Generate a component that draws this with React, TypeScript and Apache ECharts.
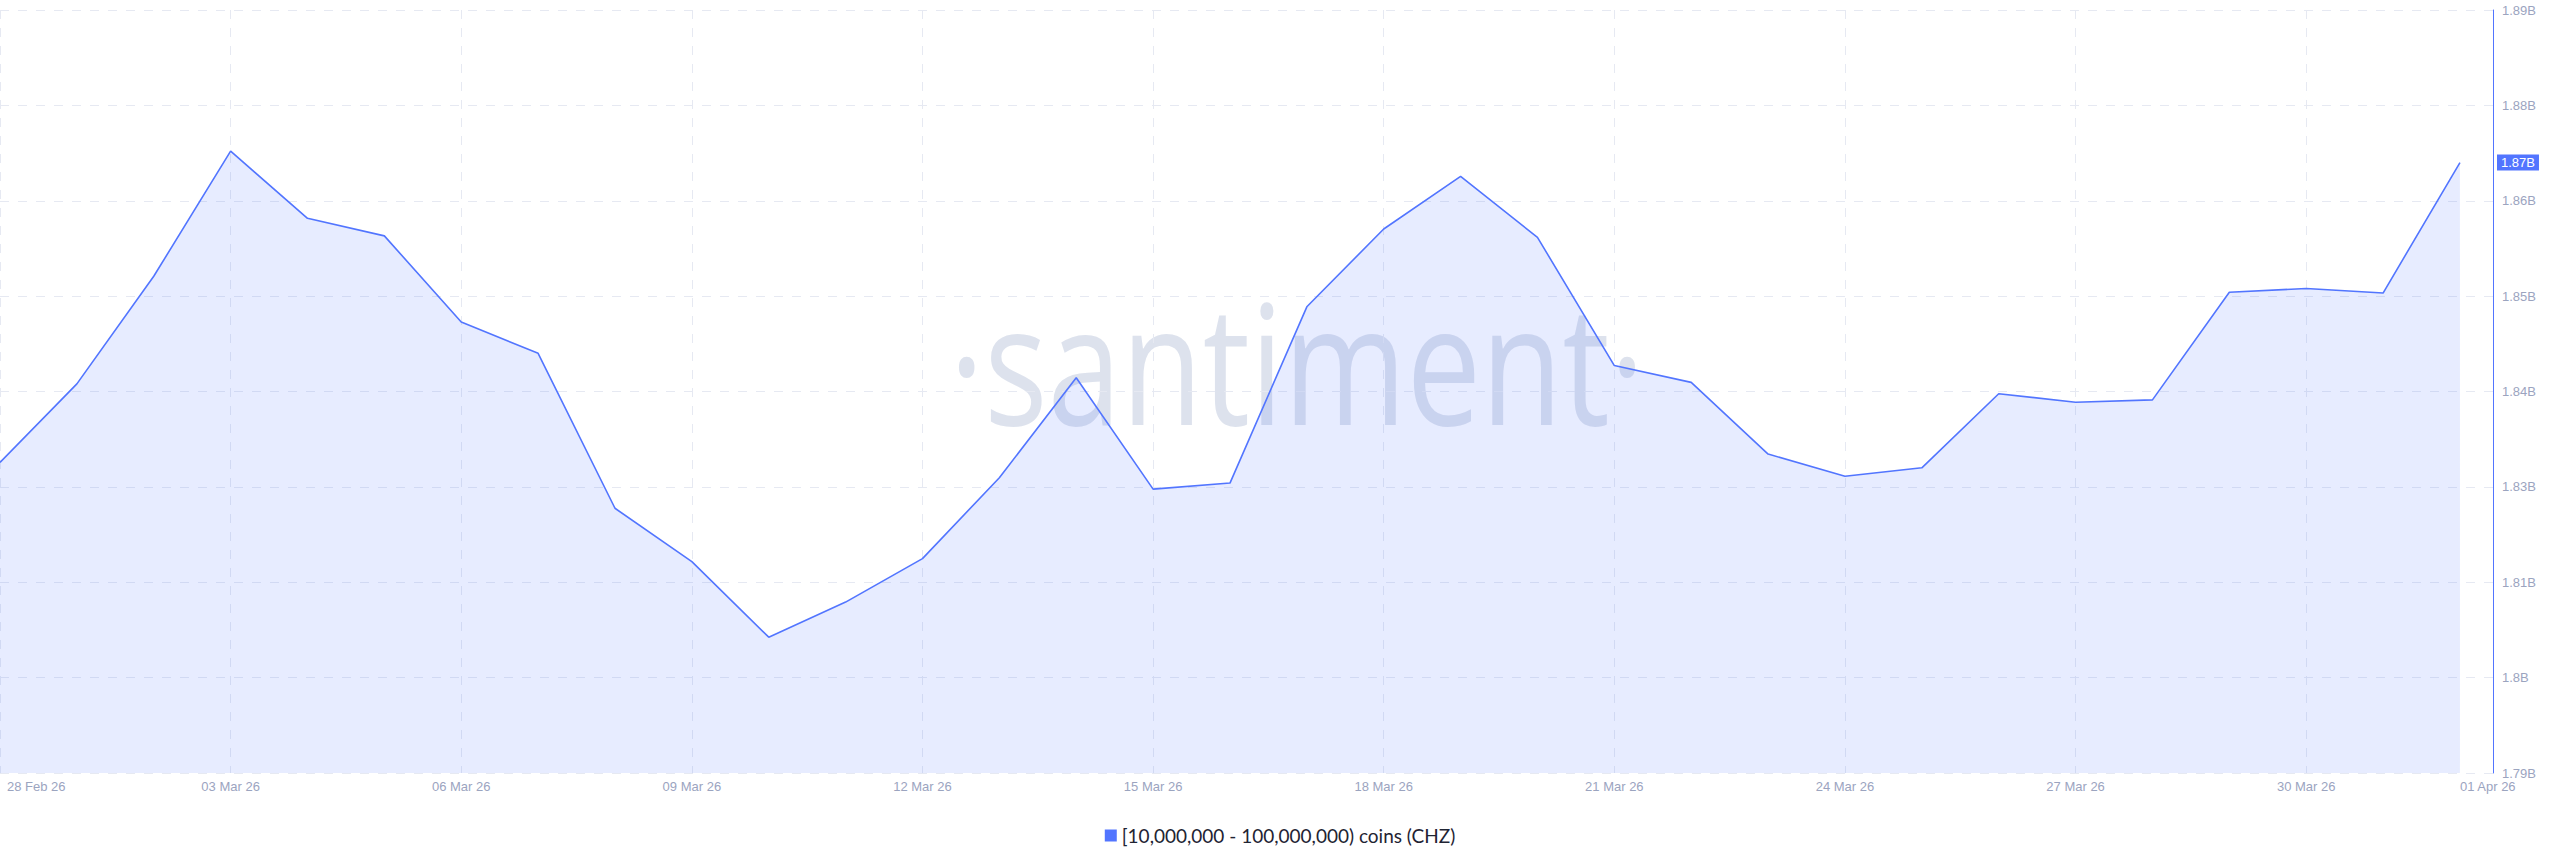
import React, { useEffect, useRef } from "react";
import * as echarts from "echarts";

const dates: string[] = [
  "28 Feb 26", "01 Mar 26", "02 Mar 26", "03 Mar 26", "04 Mar 26", "05 Mar 26",
  "06 Mar 26", "07 Mar 26", "08 Mar 26", "09 Mar 26", "10 Mar 26", "11 Mar 26",
  "12 Mar 26", "13 Mar 26", "14 Mar 26", "15 Mar 26", "16 Mar 26", "17 Mar 26",
  "18 Mar 26", "19 Mar 26", "20 Mar 26", "21 Mar 26", "22 Mar 26", "23 Mar 26",
  "24 Mar 26", "25 Mar 26", "26 Mar 26", "27 Mar 26", "28 Mar 26", "29 Mar 26",
  "30 Mar 26", "31 Mar 26", "01 Apr 26",
];

// holdings of [10M - 100M) CHZ wallets, in coins
const holdings: number[] = [
  1.8307e9, 1.8410e9, 1.8551e9, 1.8715e9, 1.8627e9, 1.8604e9,
  1.8491e9, 1.8450e9, 1.8247e9, 1.8177e9, 1.8078e9, 1.8124e9,
  1.8181e9, 1.8287e9, 1.8418e9, 1.8272e9, 1.8280e9, 1.8511e9,
  1.8613e9, 1.8682e9, 1.8602e9, 1.8434e9, 1.8412e9, 1.8318e9,
  1.8289e9, 1.8300e9, 1.8397e9, 1.8386e9, 1.8389e9, 1.8530e9,
  1.8535e9, 1.8529e9, 1.8700e9,
];

const seriesName = "[10,000,000 - 100,000,000) coins (CHZ)";

const yTickLabels: string[] = [
  "1.79B", "1.8B", "1.81B", "1.83B", "1.84B", "1.85B", "1.86B", "1.88B", "1.89B",
];
const yMin = 1.79e9;
const yMax = 1.89e9;
const yStep = 1.25e7;

const xLabelIdx: number[] = [0, 3, 6, 9, 12, 15, 18, 21, 24, 27, 30, 32];
const xMax = 32.43;

const BLUE = "#5275ff";
const LABEL = "#9ba4bf";
const GRID = "#e6e9f2";
const AXIS_FONT = '"Liberation Sans", Arial, sans-serif';

export default function App() {
  const ref = useRef<HTMLDivElement>(null);

  useEffect(() => {
    if (!ref.current) return;
    const chart = echarts.init(ref.current, undefined, { renderer: "svg" });
    const data = holdings.map((v, i) => [i, v]);
    const last = holdings[holdings.length - 1];

    chart.setOption({
      animation: false,
      backgroundColor: "#ffffff",
      grid: { left: 0, right: 67, top: 10, bottom: 94, containLabel: false },
      graphic: [
        {
          type: "text",
          x: 1297,
          y: 360,
          scaleX: 0.8,
          z: 0,
          silent: true,
          style: {
            text: "·santiment·",
            font: '400 166px "Open Sans"',
            fill: "rgba(170,182,210,0.4)",
            textAlign: "center",
            textVerticalAlign: "middle",
          },
        },
      ],
      legend: {
        show: true,
        left: "center",
        top: 821,
        icon: "rect",
        itemWidth: 12,
        itemHeight: 12,
        itemGap: 6,
        data: [seriesName],
        textStyle: { fontSize: 19, color: "#1f2433", fontFamily: "Lato, sans-serif" },
      },
      xAxis: {
        type: "value",
        min: 0,
        max: xMax,
        interval: 3,
        axisLine: { show: false },
        axisTick: { show: false },
        splitLine: { show: true, lineStyle: { color: GRID, width: 1, type: [9, 9] } },
        axisLabel: {
          customValues: xLabelIdx,
          margin: 7,
          color: LABEL,
          fontSize: 13,
          fontFamily: AXIS_FONT,
          alignMinLabel: "left",
          alignMaxLabel: "left",
          formatter: (v: number) => {
            const i = Math.round(v);
            const t = dates[i] ?? "";
            return i === 0 ? `{first|${t}}` : t;
          },
          rich: {
            first: { padding: [0, 0, 0, 7], color: LABEL, fontSize: 13, fontFamily: AXIS_FONT },
          },
        },
      },
      yAxis: {
        type: "value",
        position: "right",
        min: yMin,
        max: yMax,
        interval: yStep,
        axisLine: { show: true, onZero: false, lineStyle: { color: BLUE, width: 1 } },
        axisTick: { show: false },
        splitLine: { show: true, lineStyle: { color: GRID, width: 1, type: [9, 9] } },
        axisLabel: {
          margin: 9,
          color: LABEL,
          fontSize: 13,
          fontFamily: AXIS_FONT,
          formatter: (v: number) => yTickLabels[Math.round((v - yMin) / yStep)] ?? "",
        },
      },
      series: [
        {
          name: seriesName,
          type: "line",
          data,
          showSymbol: false,
          symbol: "none",
          lineStyle: { color: BLUE, width: 1.6 },
          itemStyle: { color: BLUE },
          areaStyle: { color: "rgba(82,117,255,0.2)", origin: "start" },
          z: 2,
          markLine: {
            silent: true,
            symbol: ["none", "none"],
            lineStyle: { color: "rgba(0,0,0,0)", width: 0 },
            label: {
              show: true,
              position: "end",
              distance: 4,
              backgroundColor: BLUE,
              color: "#ffffff",
              padding: [2, 4, 1, 4],
              fontSize: 13,
              fontFamily: AXIS_FONT,
              formatter: (p: any) => (p.value / 1e9).toFixed(2) + "B",
            },
            data: [{ yAxis: last }],
          },
        },
      ],
    });

    return () => chart.dispose();
  }, []);

  return (
    <div
      ref={ref}
      style={{ position: "absolute", left: 0, top: 0, width: 2560, height: 867 }}
    />
  );
}
